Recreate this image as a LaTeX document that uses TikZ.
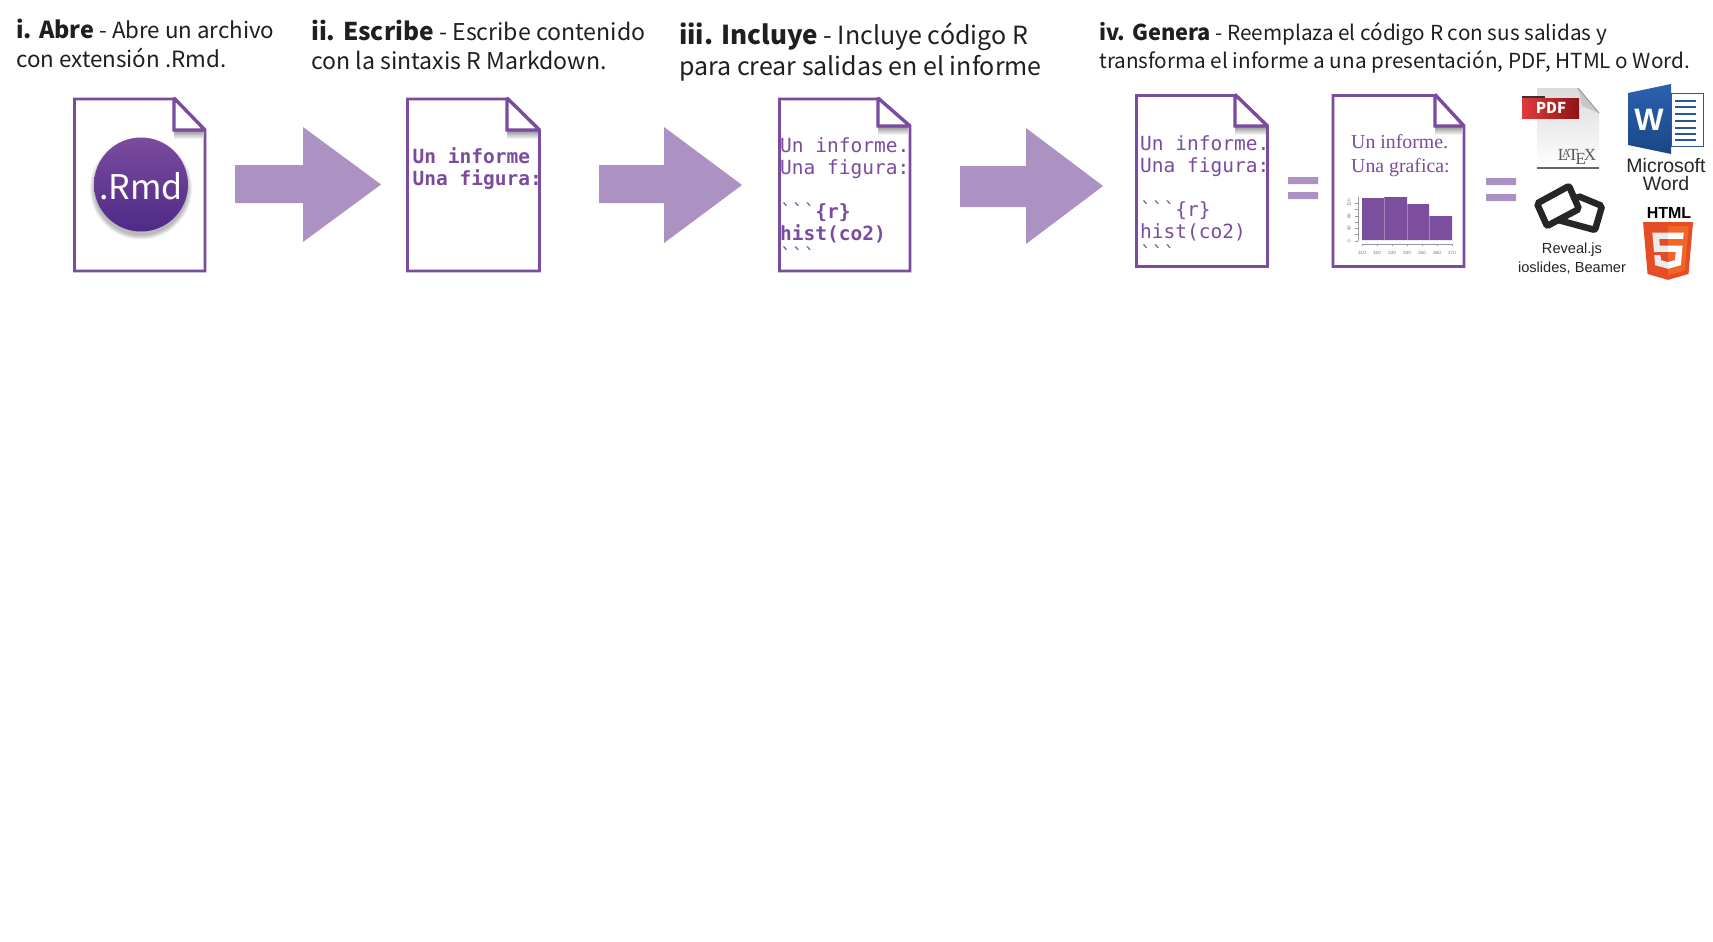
\documentclass[tikz,border=0pt]{standalone}
\usepackage{fontspec}
\setmainfont{Noto Sans CJK SC}
\newfontfamily\monof{DejaVu Sans Mono}
\newfontfamily\arialf{Liberation Sans}
\newfontfamily\serif{Liberation Serif}
\definecolor{rmdpurple}{HTML}{7B4B9E}
\definecolor{arrowpurple}{HTML}{AB92C2}
\definecolor{histpurple}{HTML}{7B4F9E}
\definecolor{wordblue}{RGB}{43,87,154}
\definecolor{wordtop}{RGB}{43,97,176}
\definecolor{wordbot}{RGB}{26,70,135}
\definecolor{htmldark}{RGB}{228,77,38}
\definecolor{htmllight}{RGB}{241,101,41}
\definecolor{rmdbottom}{HTML}{4E2A87}
\definecolor{pdfred}{HTML}{E03A3A}
\definecolor{pdfdark}{HTML}{8E1515}
\newcommand{\fs}[1]{\fontsize{#1}{#1}\selectfont}
\newcommand{\docfile}[6]{%x0 y0 x1 y1 xf yf
  \draw[docline] (#1,#2) -- (#5,#2) -- (#3,#6) -- (#3,#4) -- (#1,#4) -- cycle;
  \shade[top color=black!45,bottom color=white] (#5,#6) rectangle (#3-2,#6+9);
  \draw[docline,line width=3.4pt,fill=white,miter limit=2] (#5,#2-1) -- (#3,#6) -- (#5,#6) -- cycle;
}
\newcommand{\bigarrow}[7]{%tail x, tail top, tail bottom, head x, head top, head bottom, tip
  \fill[arrowpurple] (#1,#2) -- (#4,#2) -- (#4,#5) -- (#7) -- (#4,#6) -- (#4,#3) -- (#1,#3) -- cycle;
}
\tikzset{
  docline/.style={draw=rmdpurple,line width=2.8pt,line join=miter},
  title/.style={anchor=base west,inner sep=0pt,text=black!88},
  mono/.style={anchor=base west,inner sep=0pt,text=rmdpurple,font=\monof\fs{19.5}},
  monob/.style={mono,font=\monof\bfseries\fs{19.5}},
  sans/.style={anchor=base,inner sep=0pt,text=black!85,font=\arialf\fs{14.6}},
  tick/.style={anchor=base,inner sep=0pt,text=black!55,font=\arialf\fs{4.6}},
  serifdoc/.style={anchor=base west,inner sep=0pt,text=rmdpurple,font=\serif\fs{19.8}},
  slideframe/.style={draw=black!85,fill=white,line width=6.5pt,rounded corners=2pt},
}
\begin{document}
\begin{tikzpicture}[x=1pt,y=-1pt]
\useasboundingbox (0,0) rectangle (1713,942);
\fill[white] (0,0) rectangle (1713,942);
% headings
\node[title] (t1a) at (16,39) {\fs{23.4}\bfseries i. Abre\fs{22.3}\mdseries{} - Abre un archivo};
\node[title] (t1b) at (16,67) {\fs{22.4}con extensión .Rmd.};
\node[title] (t2a) at (311,41) {\fs{24.5}\bfseries ii. Escribe\fs{23.1}\mdseries{} - Escribe contenido};
\node[title] (t2b) at (311,70) {\fs{23.1}con la sintaxis R Markdown.};
\node[title] (t3a) at (679,45) {\fs{26}\bfseries iii. Incluye\fs{25}\mdseries{} - Incluye código R};
\node[title] (t3b) at (679,76) {\fs{25}para crear salidas en el informe};
\node[title] (t4a) at (1099,41) {\fs{21.8}\bfseries iv. Genera\fs{20.7}\mdseries{} - Reemplaza el código R con sus salidas y};
\node[title] (t4b) at (1099,68) {\fs{20.7}transforma el informe a una presentación, PDF, HTML o Word.};
% documents
\docfile{74.5}{99}{205}{271}{174}{130}
\docfile{407.5}{99}{539.5}{271}{507}{130}
\docfile{779.5}{99}{910}{271}{878}{126}
\docfile{1136.5}{95.5}{1267.5}{266.5}{1235}{126}
\docfile{1333}{95.5}{1464}{266.5}{1435}{126}
% rmd badge
\foreach \rr in {51,50,49,48,47} \fill[black,opacity=.06] (141,188.5) circle (\rr);
\shade[top color=rmdpurple,bottom color=rmdbottom] (141,184.5) circle (47);
\node[anchor=base,inner sep=0pt,text=white] (rmd) at (141,199) {\fs{34}.Rmd};
% arrows
\bigarrow{235}{165}{203}{303}{127}{242}{381,184.5}
\bigarrow{599}{165}{203}{664}{127}{243}{742,185}
\bigarrow{960}{166}{207}{1026}{128}{244}{1103,186}
% doc 2 text
\node[monob] (d2a) at (412.5,163) {Un informe};
\node[monob] (d2b) at (412.5,185) {Una figura:};
% doc 3 text
\node[mono] (d3a) at (780,152) {Un informe.};
\node[mono] (d3b) at (780,174) {Una figura:};
\node[mono] (d3c) at (780,218) {```\textbf{\{r\}}};
\node[monob] (d3d) at (780,240) {hist(co2)};
\node[mono] (d3e) at (780,262) {```};
% doc 4 text
\node[mono] (d4a) at (1140,150) {Un informe.};
\node[mono] (d4b) at (1140,172) {Una figura:};
\node[mono] (d4c) at (1140,216) {```\{r\}};
\node[mono] (d4d) at (1140,238) {hist(co2)};
\node[mono] (d4e) at (1140,260) {```};
% doc 5 text
\node[serifdoc] (d5a) at (1351,148) {Un informe.};
\node[serifdoc] (d5b) at (1351,172) {Una grafica:};
% histogram
\fill[histpurple] (1362,240) -- (1362,198) -- (1384,198) -- (1384,197) -- (1407,197) -- (1407,204) -- (1429,204) -- (1429,216) -- (1452,216) -- (1452,240) -- cycle;
\draw[white,opacity=.3,line width=.6pt] (1384,198) -- (1384,240) (1407,204) -- (1407,240) (1429,216) -- (1429,240);
\draw[black!40,line width=.5pt] (1358,197) -- (1358,241);
\foreach \yy in {203,209.5,216,222,228,234.5,241} \draw[black!40,line width=.5pt] (1355,\yy) -- (1358,\yy);
\draw[black!40,line width=.5pt] (1362,244) -- (1452,244);
\foreach \xx in {1362,1377,1392,1407,1422,1437,1452} \draw[black!40,line width=.5pt] (\xx,244) -- (\xx,246);
\foreach \xx/\lab [count=\i] in {1362/310,1377/320,1392/330,1407/340,1422/350,1437/360,1452/370}
  \node[tick] (xl\i) at (\xx,254) {\lab};
\foreach \yy/\lab [count=\i] in {203/120,216/80,228/40,241/0}
  \node[tick,anchor=center,rotate=90] (yl\i) at (1349,\yy) {\lab};
% equals
\fill[arrowpurple] (1288,177) rectangle (1318,184) (1288,192) rectangle (1318,199);
\fill[arrowpurple] (1486,178) rectangle (1516,185) (1486,194) rectangle (1516,201);
% PDF icon
\shade[top color=black!14,bottom color=white] (1537,88) -- (1578,88) -- (1599,113) -- (1599,168) -- (1537,168) -- cycle;
\fill[black!22] (1578,88) -- (1599,113) -- (1582,106) -- cycle;
\draw[black!45,line width=.8pt] (1578,88) -- (1599,113);
\draw[black!60,line width=2pt] (1537,168) -- (1599,168);
\fill[black!80] (1522,96) rectangle (1545,100);
\shade[left color=pdfred,right color=pdfdark] (1522,98) rectangle (1579,118);
\node[inner sep=0pt,text=white] (pdf) at (1551,108) {\fs{15}\bfseries PDF};
\node[inner sep=0pt,text=black!65,font=\serif\fs{17}] (latex) at (1577,157) {\LaTeX};
% Word icon
\fill[white] (1671,92) rectangle (1703,147);
\draw[wordblue,line width=1pt] (1671,93) rectangle (1703,146);
\foreach \yy in {100.5,107,114,121,128,133.5,139.5} \fill[wordblue] (1675,\yy-1) rectangle (1696,\yy+1);
\shade[top color=wordtop,bottom color=wordbot] (1628,93) -- (1671,84) -- (1671,154) -- (1628,145) -- cycle;
\node[inner sep=0pt,text=white,font=\arialf\bfseries\fs{31}] (wordw) at (1649,120) {W};
\node[sans,font=\arialf\fs{19.5}] (ms1) at (1666,172) {Microsoft};
\node[sans,font=\arialf\fs{19.5}] (ms2) at (1666,190) {Word};
% slides icon
\draw[slideframe] (1578,196) -- (1602,206) -- (1595,230) -- (1558,220) -- cycle;
\draw[slideframe] (1537,203.5) -- (1569,186) -- (1579,209) -- (1547,226) -- cycle;
\node[sans] (rev) at (1572,253) {Reveal.js};
\node[sans] (ios) at (1572,272) {ioslides, Beamer};
% HTML5
\node[inner sep=0pt,text=black,font=\arialf\bfseries\fs{16}] (html) at (1669,213) {HTML};
\begin{scope}[shift={(1639.67,222)},x=0.111pt,y=-0.113pt]
\fill[htmldark] (71,460) -- (30,0) -- (481,0) -- (440,460) -- (255,512) -- cycle;
\fill[htmllight] (256,472) -- (405,431) -- (441,37) -- (256,37) -- cycle;
\fill[black!8] (256,208) -- (181,208) -- (176,150) -- (256,150) -- (256,94) -- (114,94) -- (129,265) -- (256,265) -- cycle;
\fill[black!8] (256,355) -- (192,338) -- (188,293) -- (132,293) -- (139,382) -- (256,414) -- cycle;
\fill[white] (255,208) -- (255,265) -- (325,265) -- (318,338) -- (255,355) -- (255,414) -- (371,382) -- (387,208) -- cycle;
\fill[white] (255,94) -- (255,150) -- (392,150) -- (397,94) -- cycle;
\end{scope}
\end{tikzpicture}
\end{document}
